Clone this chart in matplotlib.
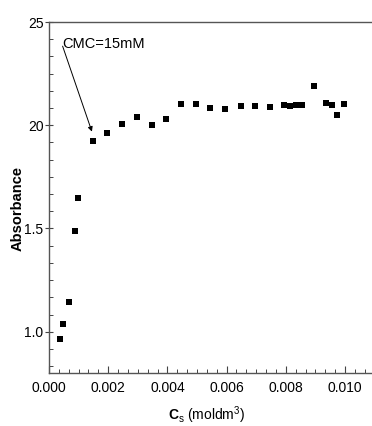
import matplotlib
matplotlib.use("Agg")
import matplotlib.pyplot as plt
import matplotlib.ticker as mticker

# Surfactant concentration (mol dm^-3) and absorbance
conc = [0.00037, 0.00047, 0.00068, 0.00087, 0.00097, 0.00147, 0.00197,
        0.00248, 0.00296, 0.00347, 0.00395, 0.00447, 0.00497, 0.00545,
        0.00595, 0.00647, 0.00696, 0.00745, 0.00794, 0.00815, 0.00836,
        0.00855, 0.00895, 0.00935, 0.00955, 0.00974, 0.00995]
absorb = [0.964, 1.039, 1.143, 1.490, 1.649, 1.923, 1.961,
          2.008, 2.039, 2.001, 2.029, 2.101, 2.101, 2.085,
          2.077, 2.093, 2.093, 2.090, 2.100, 2.093, 2.097,
          2.100, 2.191, 2.106, 2.098, 2.048, 2.105]

x_ticks = [0.000, 0.002, 0.004, 0.006, 0.008, 0.010]
x_tick_labels = ["0.000", "0.002", "0.004", "0.006", "0.008", "0.010"]
y_ticks = [1.0, 1.5, 2.0, 2.5]
y_tick_labels = ["1.0", "1.5", "20", "25"]

cmc_label = "CMC=15mM"
cmc_point = (0.00145, 1.969)
cmc_text_pos = (0.00046, 2.393)
cmc_arrow_tail = (0.00046, 2.383)

plt.rcParams.update({
    "font.family": ["Liberation Sans", "DejaVu Sans"],
    "mathtext.fontset": "custom",
    "mathtext.rm": "Liberation Sans",
    "mathtext.bf": "Liberation Sans:bold",
    "mathtext.it": "Liberation Sans",
})

fig = plt.figure(figsize=(3.72, 4.26), dpi=100)
ax = fig.add_axes([49 / 372, 53 / 426, 325.6 / 372, 351 / 426])

ax.plot(conc, absorb, linestyle="none", marker="s", markersize=4.6,
        color="black", markeredgewidth=0)

ax.set_xlim(0, 0.011)
ax.set_ylim(0.8, 2.5)

ax.set_xticks(x_ticks)
ax.set_xticklabels(x_tick_labels)
ax.set_yticks(y_ticks)
ax.set_yticklabels(y_tick_labels)
ax.xaxis.set_minor_locator(mticker.MultipleLocator(0.002 / 6))
ax.yaxis.set_minor_locator(mticker.MultipleLocator(0.5 / 6))

ax.tick_params(axis="x", which="major", direction="in", length=5, width=0.8,
               labelsize=10, pad=6, colors="#444444", labelcolor="black")
ax.tick_params(axis="x", which="minor", direction="in", length=3, width=0.7,
               colors="#444444")
ax.tick_params(axis="y", which="major", direction="inout", length=6, width=0.8,
               labelsize=10, pad=1, colors="#444444", labelcolor="black")
ax.tick_params(axis="y", which="minor", direction="in", length=3, width=0.7,
               colors="#444444")
ax.tick_params(top=False, right=False, which="both")

for side in ["left", "bottom", "top"]:
    ax.spines[side].set_color("#555555")
    ax.spines[side].set_linewidth(1.0)
ax.spines["right"].set_visible(False)

ax.set_ylabel("Absorbance", fontsize=10.5, fontweight="bold", va="center")
ax.yaxis.set_label_coords(-0.097, 0.47)
ax.set_xlabel(r"$\mathbf{C}_{s}$ (moldm$^{3}$)", fontsize=10, va="center")
ax.xaxis.set_label_coords(0.485, -0.12)

ax.annotate("", xy=cmc_point, xytext=cmc_arrow_tail,
            arrowprops=dict(arrowstyle="-|>", color="black", lw=0.7,
                            mutation_scale=7, shrinkA=0, shrinkB=0))
ax.text(cmc_text_pos[0], cmc_text_pos[1], cmc_label, fontsize=10.5,
        ha="left", va="center")

fig.savefig("out.png", dpi=100)
